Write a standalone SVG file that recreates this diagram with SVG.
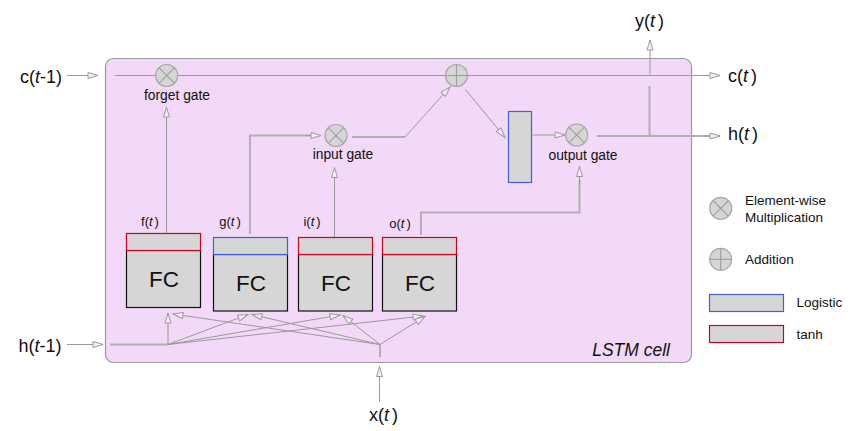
<svg xmlns="http://www.w3.org/2000/svg" width="852" height="431" viewBox="0 0 852 431">
<defs>
<style>
text{font-family:"Liberation Sans",Arial,sans-serif;fill:#111}
.big{font-size:18px}
.gate{font-size:13.8px;text-anchor:middle}
.lab{font-size:13px;text-anchor:middle}
.fc{font-size:22.5px;text-anchor:middle}
.leg{font-size:13.5px}
.ln{stroke:#9a9a9a;stroke-width:1;fill:none}
.lt{stroke:#b0b0b0;stroke-width:2;fill:none}
.op{fill:#d6d6d6;stroke:#a8a8a8;stroke-width:1.2}
.opx{stroke:#a0a0a0;stroke-width:1.2}
.box{fill:#d6d6d6;stroke:#111;stroke-width:1.2}
.tanh{fill:#d6d6d6;stroke:#d0021b;stroke-width:1.2}
.logi{fill:#d6d6d6;stroke:#3d5fe0;stroke-width:1.2}
</style>
<marker id="ah" markerUnits="userSpaceOnUse" markerWidth="14" markerHeight="10" refX="11" refY="4" orient="auto">
<path d="M1,1 L11,4 L1,7 Z" fill="#f6eef8" stroke="#9a9a9a" stroke-width="1"/>
</marker>
</defs>

<g id="cell">
<rect x="105.5" y="58.5" width="586" height="304" rx="8" fill="#f2d9f7" stroke="#9a9a9a" stroke-width="1.2"/>
<text x="670" y="356" font-size="17.5" font-style="italic" text-anchor="end">LSTM cell</text>
</g>

<g id="connectors">
<!-- cell state line -->
<line class="ln" x1="67" y1="75.5" x2="98" y2="75.5" marker-end="url(#ah)"/>
<line class="ln" x1="115" y1="75.5" x2="155.5" y2="75.5"/>
<line class="ln" x1="178" y1="75.5" x2="445.5" y2="75.5"/>
<line class="ln" x1="467.5" y1="75.5" x2="720" y2="75.5" marker-end="url(#ah)"/>
<!-- y(t) -->
<line class="ln" x1="650" y1="75.5" x2="650" y2="40" marker-end="url(#ah)"/>
<!-- h output -->
<line class="lt" x1="597" y1="136" x2="712" y2="136"/>
<line class="ln" x1="705" y1="136" x2="720" y2="136" marker-end="url(#ah)"/>
<line class="lt" x1="649.5" y1="136" x2="649.5" y2="86"/>
<!-- f to forget gate -->
<line class="ln" x1="166.5" y1="237" x2="166.5" y2="107" marker-end="url(#ah)"/>
<!-- g to input gate -->
<polyline class="lt" points="250,234 250,135.5 312,135.5"/>
<line class="ln" x1="305" y1="135.5" x2="321" y2="135.5" marker-end="url(#ah)"/>
<!-- i to input gate -->
<line class="ln" x1="334.5" y1="237" x2="334.5" y2="167.5" marker-end="url(#ah)"/>
<!-- input gate to plus -->
<polyline class="lt" points="352,137 405,137"/>
<polyline class="ln" points="405,137 450,87" marker-end="url(#ah)"/>
<!-- plus to tanh rect -->
<line class="ln" x1="465.5" y1="89.5" x2="505" y2="137.5" marker-end="url(#ah)"/>
<!-- rect to output gate -->
<line class="ln" x1="532.5" y1="135" x2="565" y2="135" marker-end="url(#ah)"/>
<!-- o to output gate -->
<polyline class="lt" points="421,235 421,212.5 579.5,212.5 579.5,180"/>
<line class="ln" x1="579.5" y1="185" x2="579.5" y2="166.5" marker-end="url(#ah)"/>
<!-- h(t-1) input -->
<line class="ln" x1="67" y1="344.5" x2="103" y2="344.5" marker-end="url(#ah)"/>
<line class="lt" x1="110" y1="344.5" x2="168" y2="344.5"/>
<!-- x(t) input -->
<line class="ln" x1="379.5" y1="402" x2="379.5" y2="366.5" marker-end="url(#ah)"/>
<line class="lt" x1="380" y1="344.5" x2="380" y2="357"/>
<!-- fan from h(t-1) -->
<line class="ln" x1="168" y1="344.5" x2="168" y2="313" marker-end="url(#ah)"/>
<line class="ln" x1="168" y1="344.5" x2="248" y2="314.5" marker-end="url(#ah)"/>
<line class="ln" x1="168" y1="344.5" x2="340" y2="315" marker-end="url(#ah)"/>
<line class="ln" x1="168" y1="344.5" x2="423" y2="316" marker-end="url(#ah)"/>
<!-- fan from x(t) -->
<line class="ln" x1="380" y1="344.5" x2="173" y2="314" marker-end="url(#ah)"/>
<line class="ln" x1="380" y1="344.5" x2="252" y2="314.5" marker-end="url(#ah)"/>
<line class="ln" x1="380" y1="344.5" x2="343" y2="315.5" marker-end="url(#ah)"/>
<line class="ln" x1="380" y1="344.5" x2="425" y2="316.5" marker-end="url(#ah)"/>
</g>

<g id="forget-gate">
<circle class="op" cx="166.7" cy="75.5" r="11"/>
<line class="opx" x1="158.9" y1="67.7" x2="174.5" y2="83.3"/>
<line class="opx" x1="174.5" y1="67.7" x2="158.9" y2="83.3"/>
<text class="gate" x="177" y="100">forget gate</text>
</g>

<g id="addition">
<circle class="op" cx="456.5" cy="75.5" r="11"/>
<line class="opx" x1="445.5" y1="75.5" x2="467.5" y2="75.5"/>
<line class="opx" x1="456.5" y1="64.5" x2="456.5" y2="86.5"/>
</g>

<g id="input-gate">
<circle class="op" cx="336" cy="135.5" r="11"/>
<line class="opx" x1="328.2" y1="127.7" x2="343.8" y2="143.3"/>
<line class="opx" x1="343.8" y1="127.7" x2="328.2" y2="143.3"/>
<text class="gate" x="343" y="159">input gate</text>
</g>

<g id="cell-tanh">
<rect class="logi" x="508.5" y="111.5" width="23" height="71"/>
</g>

<g id="output-gate">
<circle class="op" cx="576.7" cy="135" r="11"/>
<line class="opx" x1="568.9" y1="127.2" x2="584.5" y2="142.8"/>
<line class="opx" x1="584.5" y1="127.2" x2="568.9" y2="142.8"/>
<text class="gate" x="583" y="159.5">output gate</text>
</g>

<g id="fc-f">
<rect class="box" x="126.5" y="250.5" width="74" height="57"/>
<rect class="tanh" x="126.5" y="233.5" width="74" height="17"/>
<text class="fc" x="164" y="287">FC</text>
<text class="lab" x="150" y="226">f(<tspan font-style="italic">t</tspan><tspan dx="2">)</tspan></text>
</g>

<g id="fc-g">
<rect class="box" x="213.5" y="254.5" width="74" height="56.5"/>
<rect class="logi" x="213.5" y="237.5" width="74" height="17"/>
<text class="fc" x="251" y="291">FC</text>
<text class="lab" x="230" y="226">g(<tspan font-style="italic">t</tspan><tspan dx="2">)</tspan></text>
</g>

<g id="fc-i">
<rect class="box" x="298.5" y="254.5" width="74" height="56.5"/>
<rect class="tanh" x="298.5" y="237.5" width="74" height="17"/>
<text class="fc" x="336" y="291">FC</text>
<text class="lab" x="312" y="226">i(<tspan font-style="italic">t</tspan><tspan dx="2">)</tspan></text>
</g>

<g id="fc-o">
<rect class="box" x="382.5" y="254.5" width="74" height="56.5"/>
<rect class="tanh" x="382.5" y="237.5" width="74" height="17"/>
<text class="fc" x="420" y="291">FC</text>
<text class="lab" x="400" y="228">o(<tspan font-style="italic">t</tspan><tspan dx="2">)</tspan></text>
</g>

<g id="labels">
<text class="big" x="20" y="82.5">c(<tspan font-style="italic">t</tspan>-1)</text>
<text class="big" x="728" y="82">c(<tspan font-style="italic">t</tspan><tspan dx="3">)</tspan></text>
<text class="big" x="728" y="140">h(<tspan font-style="italic">t</tspan><tspan dx="3">)</tspan></text>
<text class="big" x="635" y="27">y(<tspan font-style="italic">t</tspan><tspan dx="3">)</tspan></text>
<text class="big" x="18.5" y="351.5">h(<tspan font-style="italic">t</tspan>-1)</text>
<text class="big" x="369" y="420.5">x(<tspan font-style="italic">t</tspan><tspan dx="3">)</tspan></text>
</g>

<g id="legend">
<circle class="op" cx="720.7" cy="208.3" r="11"/>
<line class="opx" x1="712.9" y1="200.5" x2="728.5" y2="216.1"/>
<line class="opx" x1="728.5" y1="200.5" x2="712.9" y2="216.1"/>
<text class="leg" x="745" y="205">Element-wise</text>
<text class="leg" x="745" y="221.5">Multiplication</text>
<circle class="op" cx="720.7" cy="259.3" r="11"/>
<line class="opx" x1="709.7" y1="259.3" x2="731.7" y2="259.3"/>
<line class="opx" x1="720.7" y1="248.3" x2="720.7" y2="270.3"/>
<text class="leg" x="745" y="263.5">Addition</text>
<rect class="logi" x="709.5" y="294.5" width="74" height="17"/>
<text class="leg" x="796.5" y="306.5">Logistic</text>
<rect class="tanh" x="709.5" y="325.5" width="74" height="17"/>
<text class="leg" x="796.5" y="338.5">tanh</text>
</g>
</svg>
